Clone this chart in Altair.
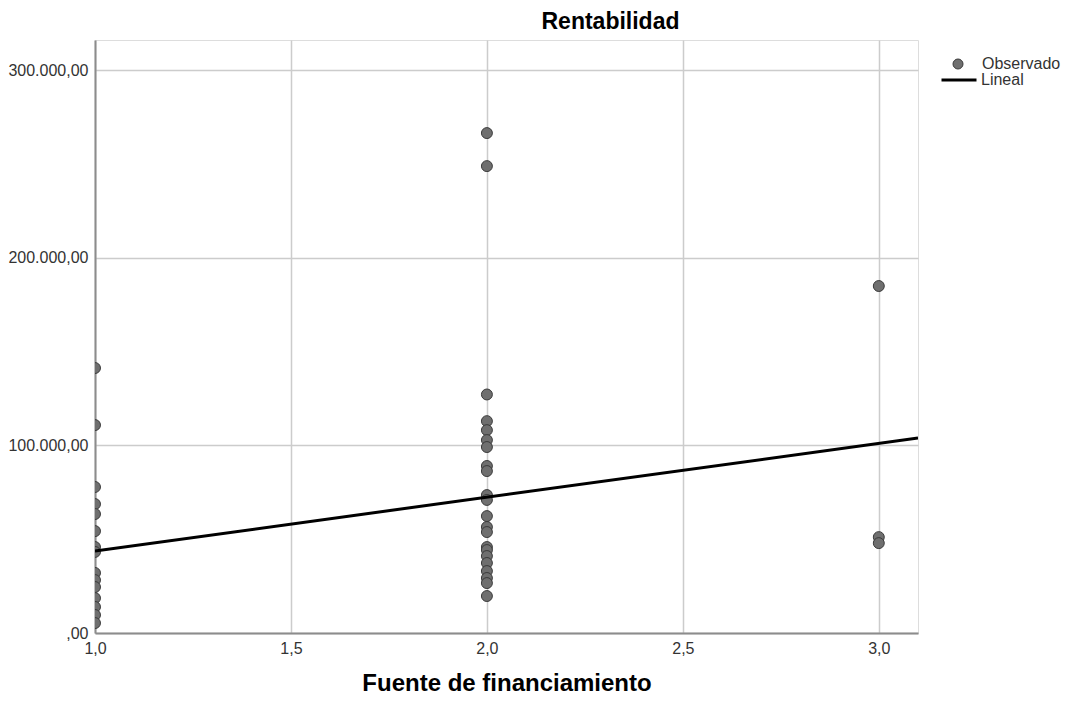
import altair as alt
import pandas as pd

# ---- data ----
x1_values = [141200, 110800, 77800, 68700, 63400, 54300, 45800, 43200,
             32000, 28200, 24500, 18600, 13900, 9600, 5300]
x2_values = [266400, 248800, 127100, 112900, 108100, 102800, 99100, 89000,
             86300, 73500, 70900, 62300, 56500, 53800, 45800, 44200, 41000,
             37300, 33000, 29300, 26600, 19700]
x3_values = [184900, 51100, 47900]
fit_x = [1.0, 3.1]
fit_y = [43700, 103900]
x_ticks = [1.0, 1.5, 2.0, 2.5, 3.0]
y_ticks = [0, 100000, 200000, 300000]

obs = pd.DataFrame({
    "x": [1.0] * len(x1_values) + [2.0] * len(x2_values) + [3.0] * len(x3_values),
    "y": x1_values + x2_values + x3_values,
    "serie": "Observado",
})
fit = pd.DataFrame({"x": fit_x, "y": fit_y, "serie": "Lineal"})

TICK_FONT = "Liberation Sans"
BOLD_FONT = "Liberation Sans"

x_scale = alt.Scale(domain=[1.0, 3.1], nice=False, zero=False)
y_scale = alt.Scale(domain=[0, 316000], nice=False)

x_axis = alt.Axis(
    values=x_ticks,
    labelExpr="replace(format(datum.value, '.1f'), '.', ',')",
    title="Fuente de financiamiento",
    titleFont=BOLD_FONT, titleFontSize=24, titleFontWeight="bold",
    titleColor="#000000", titlePadding=15,
    labelFont=TICK_FONT, labelFontSize=16, labelColor="#333333",
    labelPadding=7, ticks=False, labelFlush=False,
    domainColor="#8c8c8c", domainWidth=2,
    gridColor="#cccccc", gridWidth=1.5,
)
y_axis = alt.Axis(
    values=y_ticks,
    labelExpr="datum.value == 0 ? ',00' : replace(replace(replace(format(datum.value, ',.2f'), ',', '_'), '.', ','), '_', '.')",
    title=None,
    labelFont=TICK_FONT, labelFontSize=16, labelColor="#333333",
    labelPadding=7, ticks=False, labelFlush=False,
    domainColor="#8c8c8c", domainWidth=2,
    gridColor="#cccccc", gridWidth=1.5,
)

points = alt.Chart(obs).mark_point(
    filled=True, size=120, stroke="#3a3a3a", strokeWidth=1, opacity=1, clip=True
).encode(
    x=alt.X("x:Q", scale=x_scale, axis=x_axis),
    y=alt.Y("y:Q", scale=y_scale, axis=y_axis),
    fill=alt.Fill(
        "serie:N",
        scale=alt.Scale(domain=["Observado"], range=["#6f6f6f"]),
        legend=alt.Legend(
            title=None, orient="none", legendX=855, legendY=16,
            symbolType="circle", symbolSize=100, symbolStrokeColor="#3a3a3a",
            symbolStrokeWidth=1, symbolOpacity=1, labelOffset=16, padding=0,
            labelFont=TICK_FONT, labelFontSize=16, labelColor="#333333",
        ),
    ),
)

line = alt.Chart(fit).mark_line(strokeWidth=3, clip=True).encode(
    x=alt.X("x:Q", scale=x_scale),
    y=alt.Y("y:Q", scale=y_scale),
    stroke=alt.Stroke(
        "serie:N",
        scale=alt.Scale(domain=["Lineal"], range=["#000000"]),
        legend=alt.Legend(
            title=None, orient="none", legendX=845, legendY=21,
            symbolType="stroke", symbolSize=1225, symbolStrokeWidth=3,
            labelOffset=3, padding=0,
            labelFont=TICK_FONT, labelFontSize=16, labelColor="#333333",
        ),
    ),
)

chart = alt.layer(points, line).properties(
    width=823,
    height=593,
    title=alt.TitleParams(
        "Rentabilidad", font=BOLD_FONT, fontSize=23, fontWeight="bold",
        color="#000000", anchor="middle", dx=104, offset=6,
    ),
    autosize=alt.AutoSizeParams(type="none"),
    padding={"left": 87, "top": 32, "right": 145, "bottom": 63},
).configure_view(stroke=None).configure(background="white")

chart.save("out.html", embed_options={"renderer": "svg", "actions": False})
